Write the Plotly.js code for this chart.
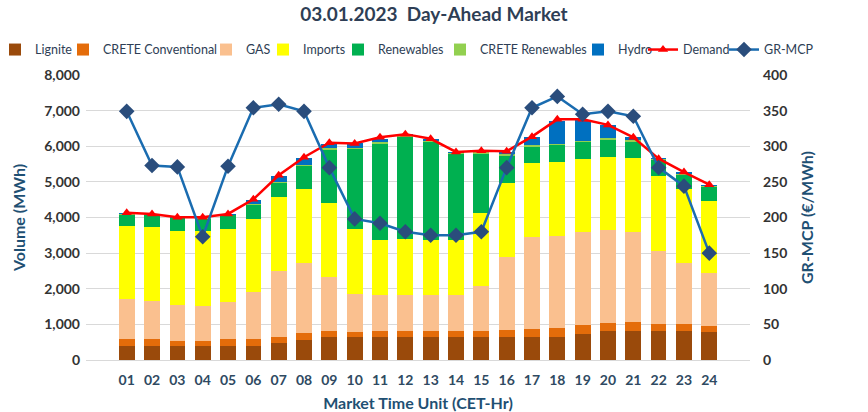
<!DOCTYPE html>
<html><head><meta charset="utf-8">
<script src="https://cdn.plot.ly/plotly-3.0.1.min.js"></script>
<style>html,body{margin:0;padding:0;background:#fff}#c{width:868px;height:412px}</style>
</head><body><div id="c"></div>
<script>
const hours = ["01","02","03","04","05","06","07","08","09","10","11","12","13","14","15","16","17","18","19","20","21","22","23","24"];
const lignite   = [400,400,400,400,400,400,470,560,650,640,640,640,640,640,640,655,655,655,730,805,823,823,823,790];
const creteConv = [180,180,140,120,180,200,185,210,170,160,175,175,175,175,175,185,225,245,250,225,245,190,190,165];
const gas       = [1120,1080,1010,1000,1050,1310,1850,1960,1500,1055,1010,1010,1000,1000,1260,2060,2580,2580,2610,2620,2525,2060,1720,1480];
const imports   = [2060,2070,2060,2100,2060,2060,2060,2060,2080,1835,1545,1580,1555,1555,2060,2060,2080,2080,2060,2060,2080,2080,2080,2040];
const renew     = [320,340,365,350,370,375,390,650,1500,2230,2695,2850,2750,2400,1650,770,450,470,470,470,450,470,375,390];
const creteRen  = [20,20,20,20,20,30,40,40,40,40,50,40,40,40,40,40,40,40,40,40,40,30,40,30];
const hydro     = [30,20,20,15,20,120,180,180,130,130,100,40,40,20,20,60,240,640,580,380,100,20,50,20];
const demand    = [4130,4100,4005,4005,4100,4510,5185,5690,6100,6080,6250,6340,6210,5840,5875,5860,6270,6755,6755,6600,6250,5650,5275,4920];
const mcp       = [349,273,271,173,272,354,359,349,270,198,192,180,175,175,180,270,354,370,345,349,342,270,244,150];

const font = "Lato, 'DejaVu Sans', sans-serif";
const barDefs = [
  ["Lignite", lignite, "#9A4A0B"],
  ["CRETE Conventional", creteConv, "#E46C0A"],
  ["GAS", gas, "#FAC08F"],
  ["Imports", imports, "#FFFF00"],
  ["Renewables", renew, "#00B050"],
  ["CRETE Renewables", creteRen, "#92D050"],
  ["Hydro", hydro, "#0070C0"]
];
// legend text starting positions (px) for each entry, one legend per entry
const legendTextX = [37, 105, 248, 305, 380, 482, 620, 685, 766];
const legendKeys = legendTextX.map((_, i) => i === 0 ? "legend" : "legend" + (i + 1));

const traces = barDefs.map(([n, v, c], i) => ({
  type: "bar", name: n, x: hours, y: v, marker: {color: c, line: {width: 0}},
  legend: legendKeys[i], hoverinfo: "y+name"
}));
traces.push({
  type: "scatter", mode: "lines+markers", name: "Demand", x: hours, y: demand, legend: legendKeys[7],
  line: {color: "#FF0000", width: 2.5}, marker: {symbol: "triangle-up", size: 9, color: "#FF0000"}
});
traces.push({
  type: "scatter", mode: "lines+markers", name: "GR-MCP", x: hours, y: mcp, yaxis: "y2", legend: legendKeys[8],
  line: {color: "#1A6CB0", width: 2.5}, marker: {symbol: "diamond", size: 12, color: "#2A4D7C"}
});

const L = 86, PW = 664;
const layout = {
  width: 868, height: 412,
  margin: {l: L, r: 118, t: 75, b: 52, autoexpand: false},
  paper_bgcolor: "#fff", plot_bgcolor: "#fff",
  font: {family: font, color: "#404040", size: 13},
  barmode: "stack", bargap: 0.38,
  title: {text: "<b>03.01.2023  Day-Ahead Market</b>", x: 0.5, xanchor: "center", y: 0.965, yanchor: "middle",
          font: {family: font, size: 19, color: "#2E3E55"}},
  showlegend: true,
  xaxis: {type: "category", automargin: false, showgrid: false, showline: true, linecolor: "#D9D9D9", linewidth: 1, ticks: "",
          ticklabelstandoff: 7,
          tickfont: {family: font, size: 14, color: "#2F4A62", weight: "bold"},
          title: {text: "<b>Market Time Unit (CET-Hr)</b>", standoff: 11, font: {family: font, size: 16, color: "#1F5073"}}},
  yaxis: {range: [0, 8000], automargin: false, dtick: 1000, tickformat: ",d", showgrid: true, gridcolor: "#D9D9D9", zeroline: false,
          showline: false, ticks: "", ticklabelstandoff: 5, tickfont: {family: font, size: 14, color: "#333", weight: "bold"},
          title: {text: "<b>Volume (MWh)</b>", standoff: 14, font: {family: font, size: 16, color: "#1F5073"}}},
  yaxis2: {range: [0, 400], automargin: false, dtick: 50, overlaying: "y", side: "right", showgrid: false, zeroline: false,
           showline: false, ticks: "", ticklabelstandoff: 12, tickfont: {family: font, size: 14, color: "#333", weight: "bold"},
           title: {text: "<b>GR-MCP (€/MWh)</b>", standoff: 15, font: {family: font, size: 16, color: "#1F5073"}}}
};
legendKeys.forEach((k, i) => {
  layout[k] = {
    orientation: "h", xanchor: "left", yanchor: "middle", y: 1.088,
    x: (legendTextX[i] - 42 - L) / PW,
    bgcolor: "rgba(0,0,0,0)", borderwidth: 0, itemwidth: 30,
    font: {family: font, size: 12.5, color: "#2E3E55"}
  };
});
Plotly.newPlot("c", traces, layout, {displayModeBar: false, staticPlot: true});
</script></body></html>
